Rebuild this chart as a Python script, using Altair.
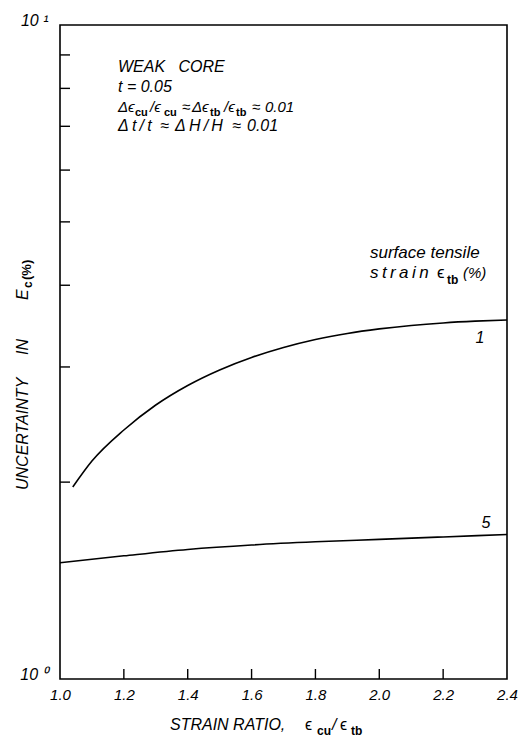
import altair as alt
import pandas as pd

# ---- data ----
series1_x = [1.04, 1.1, 1.2, 1.3, 1.4, 1.5, 1.6, 1.7, 1.8, 1.9, 2.0, 2.1, 2.2, 2.3, 2.4]
series1_y = [1.966, 2.154, 2.403, 2.624, 2.811, 2.969, 3.102, 3.213, 3.305, 3.376, 3.430,
             3.472, 3.503, 3.525, 3.540]
series5_x = [1.0, 1.2, 1.4, 1.6, 1.8, 2.0, 2.2, 2.4]
series5_y = [1.506, 1.543, 1.578, 1.603, 1.621, 1.635, 1.649, 1.663]
x_tick_labels = [1.0, 1.2, 1.4, 1.6, 1.8, 2.0, 2.2, 2.4]
x_inner_ticks = [1.2, 1.4, 1.6, 1.8, 2.0, 2.2]
y_major = [1, 10]
y_minor = [2, 3, 4, 5, 6, 7, 8, 9]

FONT = "Liberation Sans"
W, H = 447, 654

lines_df = pd.DataFrame(
    {"x": series1_x + series5_x,
     "y": series1_y + series5_y,
     "s": ["1"] * len(series1_x) + ["5"] * len(series5_x)}
)

xenc = alt.X("x:Q",
             scale=alt.Scale(domain=[1.0, 2.4], nice=False, zero=False),
             axis=alt.Axis(values=x_tick_labels, format=".1f", ticks=False, domain=False,
                           grid=False, title=None, labelFont=FONT, labelFontStyle="italic",
                           labelFontSize=15, labelColor="black", labelPadding=8,
                           labelFlush=False, labelOverlap=False))
yenc = alt.Y("y:Q",
             scale=alt.Scale(type="log", domain=[1, 10], nice=False, zero=False),
             axis=alt.Axis(values=y_major, labelExpr="datum.value == 1 ? '10 ⁰' : '10 ¹'",
                           ticks=False, domain=False, grid=False, title=None,
                           labelFont=FONT, labelFontStyle="italic", labelFontSize=16,
                           labelColor="black", labelPadding=12, labelOffset=-5))

lines = alt.Chart(lines_df).mark_line(color="black", strokeWidth=1.6, interpolate="monotone").encode(
    x=xenc, y=yenc, detail="s:N")

yt = alt.Chart(pd.DataFrame({"y": y_minor})).mark_rule(color="black", strokeWidth=1.4).encode(
    y=yenc, x=alt.value(0), x2=alt.value(10))
xt = alt.Chart(pd.DataFrame({"x": x_inner_ticks})).mark_rule(color="black", strokeWidth=1.4).encode(
    x=xenc, y=alt.value(H), y2=alt.value(H - 10))


def txt(s, x, y, size=15, style="italic", weight="normal", angle=0, align="left", baseline="alphabetic"):
    return alt.Chart(pd.DataFrame({"t": [s]})).mark_text(
        font=FONT, fontSize=size, fontStyle=style, fontWeight=weight, angle=angle,
        align=align, baseline=baseline, color="black").encode(
        x=alt.value(x), y=alt.value(y), text="t:N")


NB = "\u00a0"
TS = "\u2009"
SUB = dict(size=12, style="normal", weight="bold")
SUBS = dict(size=11, style="normal", weight="bold")
texts = [
    # info block
    txt("WEAK" + NB * 3 + "CORE", 58, 47, size=16),
    txt("t" + NB + "=" + NB + "0.05", 58, 67, size=16),
    txt("Δϵ", 58, 87), txt("cu", 75, 91, **SUBS),
    txt("/ϵ", 90, 87), txt("cu", 104, 91, **SUBS),
    txt("≈", 122, 87), txt("Δϵ", 132, 87), txt("tb", 150, 91, **SUBS),
    txt("/ϵ", 164, 87), txt("tb", 176, 91, **SUBS),
    txt("≈", 192, 87), txt("0.01", 205, 87),
    txt(TS.join("Δt/t"), 58, 106, size=16), txt("≈", 100, 106, size=16),
    txt(TS.join("ΔH/H"), 115, 106, size=16), txt("≈", 172, 106, size=16),
    txt("0.01", 187, 106, size=16),
    # note above curves
    txt("surface" + NB + "tensile", 310, 233, size=17),
    txt(TS.join("strain"), 310, 253, size=17),
    txt("ϵ", 377, 253, size=17, style="normal"),
    txt("tb", 387, 259, **SUB),
    txt("(%)", 403, 253, size=15),
    # curve labels
    txt("1", 420, 318, size=16, align="center"),
    txt("5", 426, 503, size=16, align="center"),
    # x title
    txt("STRAIN" + NB + "RATIO,", 110, 705, size=16),
    txt("ϵ", 245, 705, size=16, style="normal"),
    txt("cu", 257, 710, **SUB),
    txt("/", 272, 705, size=16),
    txt("ϵ", 280, 705, size=16, style="normal"),
    txt("tb", 291, 710, **SUB),
    # y title (rotated)
    txt("UNCERTAINTY", -32, 465, size=16, angle=270),
    txt("IN", -32, 330, size=16, angle=270),
    txt("E", -32, 275, size=16, angle=270),
    txt("c", -28, 263, size=12, style="normal", weight="bold", angle=270),
    txt("(%)", -29, 255, size=13, style="normal", weight="bold", angle=270),
]

chart = alt.layer(lines, yt, xt, *texts).properties(
    width=W, height=H,
    background="white",
    autosize=alt.AutoSizeParams(type="none"),
    padding={"left": 60, "top": 25, "right": 11, "bottom": 64},
).configure_view(stroke="black", strokeWidth=1.6)

chart.save("out.html", embed_options={"renderer": "svg", "actions": False})
